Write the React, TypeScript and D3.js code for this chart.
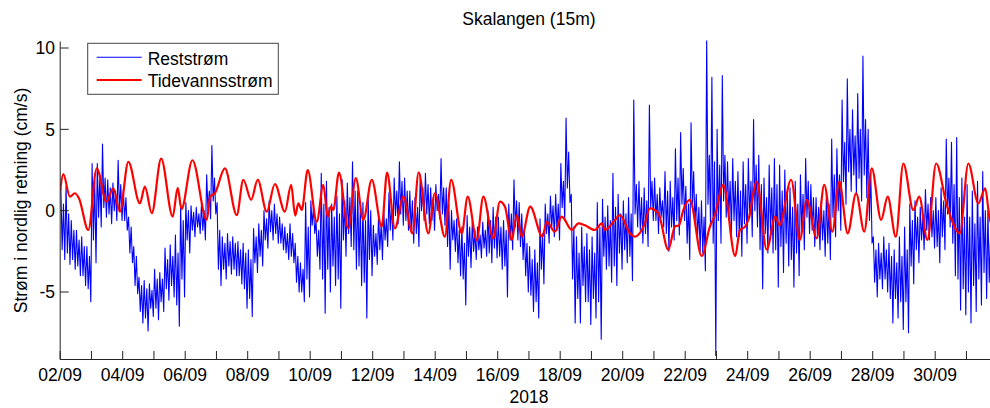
import React from 'react';
import * as d3 from 'd3';

const title = 'Skalangen (15m)';
const yLabel = 'Strøm i nordlig retning (cm/s)';
const xLabel = '2018';
const seriesNames = ['Reststrøm', 'Tidevannsstrøm'];
const yTicks = [-5, 0, 5, 10];
const yDomain = [-9.15, 10.4];
const startDate = Date.UTC(2018, 8, 2);
const endDate = Date.UTC(2018, 9, 2);
const lastLabelDate = Date.UTC(2018, 8, 30);
const slotsPerDay = 6;

// Reststrøm, per 4-hour slot (one row = one day):
// extreme upper / lower excursion of the slot
const resHigh = [
  1.4, 1.5, -0.6, -1.2, -1.6, -2.2,
  2.9, 2.9, 4.1, 1.9, 1.7, 3.1,
  1.3, -0.4, -2.2, -4.1, -4.3, -4.5,
  -3.6, -3.8, -2.3, -2.1, -1.5, 0.4,
  0.5, 0.3, 0.2, 0.4, 2.2, 4.0,
  0.5, -1.6, -1.4, -1.6, -1.9, -2.0,
  -2.4, -1.1, -0.8, 0.0, 0.6, 0.4,
  -0.4, -1.0, -0.8, -2.0, -3.2, 0.5,
  0.6, -0.6, 2.3, 1.8, 0.4, 0.9,
  1.9, 1.7, 3.0, 1.2, 0.5, 0.9,
  -0.9, -0.2, 0.0, 1.1, 2.0, 3.0,
  2.0, 1.2, 0.8, 2.2, 2.3, 1.4,
  1.6, 3.2, 1.4, 0.0, -0.5, -1.0,
  -0.3, -0.6, -1.0, -0.7, 0.0, 0.2,
  -0.4, -0.6, 0.4, 1.9, 0.5, -1.2,
  -2.2, -2.4, -0.5, 0.4, 0.9, 1.0,
  2.9, 5.7, 1.0, -1.6, -1.0, -1.4,
  -1.6, 0.5, 0.7, 0.3, 2.3, 1.0,
  0.6, 0.8, 6.8, 1.8, 1.4, 6.5,
  2.0, 1.4, 2.4, 1.8, 3.8, 4.8,
  1.5, 5.4, 1.0, 0.6, 10.6, 8.2,
  5.0, 8.3, 3.0, 3.2, 2.4, 3.0,
  3.2, 5.6, 3.4, 2.0, 2.8, 3.2,
  2.8, 2.5, 1.4, 1.8, 2.2, 3.2,
  1.6, 0.8, 0.6, 1.2, 4.4, 3.8,
  6.8, 8.1, 6.2, 7.2, 9.5, 5.0,
  -1.6, -2.0, -1.6, -2.0, -2.4, -1.6,
  -1.0, 0.4, 0.6, 0.2, 1.3, 0.8,
  0.8, 1.4, 4.4, 4.2, 4.5, 2.0,
  1.6, 1.2, 1.8, 2.4, 0.0, -1.0,
];
const resLow = [
  -3.0, -3.3, -3.6, -4.0, -4.6, -5.6,
  -3.2, -1.0, -0.4, -0.8, -0.6, -0.6,
  -1.2, -3.2, -5.1, -6.9, -7.4, -6.5,
  -6.7, -6.2, -5.5, -5.3, -7.1, -5.3,
  -2.6, -1.6, -1.4, -1.8, -0.5, -0.2,
  -4.6, -4.2, -3.9, -4.0, -4.5, -6.0,
  -6.5, -3.8, -3.4, -2.3, -1.8, -2.0,
  -2.4, -3.0, -3.2, -5.0, -5.6, -5.3,
  -1.4, -3.6, -6.3, -5.0, -4.6, -6.0,
  -2.8, -2.2, -3.6, -4.6, -6.6, -4.0,
  -3.3, -3.0, -2.2, -1.8, -0.8, -0.9,
  -1.2, -2.0, -2.2, -0.6, -0.8, -1.2,
  -0.5, -0.9, -3.6, -2.5, -4.0, -5.8,
  -3.5, -3.0, -2.9, -2.8, -3.2, -2.9,
  -3.6, -5.3, -2.4, -1.8, -3.0, -5.0,
  -6.2, -6.6, -4.5, -2.0, -1.6, -1.8,
  -0.6, 0.5, -6.9, -6.9, -5.6, -7.0,
  -6.6, -7.9, -3.6, -4.4, -4.6, -3.6,
  -3.2, -4.3, -1.0, -2.0, -2.2, -0.6,
  -1.4, -1.0, -2.5, -1.8, -1.5, -0.6,
  -3.0, -0.8, -2.5, -3.7, -1.0, -8.9,
  -2.0, -0.4, -1.4, -1.6, -2.8, -2.0,
  -1.6, -1.0, -4.8, -2.6, -2.6, -4.7,
  -3.8, -3.4, -4.7, -4.0, -2.4, -1.4,
  -2.2, -2.4, -2.8, -3.0, -1.6, -1.2,
  0.4, 1.2, 1.0, 0.6, 0.8, -2.0,
  -5.3, -4.8, -5.0, -6.9, -6.6, -7.3,
  -7.5, -4.5, -3.2, -2.4, -1.8, -2.3,
  -3.2, -2.4, -1.0, -4.0, -6.1, -6.4,
  -6.9, -6.2, -5.8, -5.4, -6.0, -4.0,
];
// upper / lower edge of the dense core of the band in the same slots
const resCoreHigh = [
  0.4, -0.2, -1.2, -1.8, -2.2, -2.8,
  1.8, 2.2, 2.0, 1.4, 1.2, 1.6,
  0.8, -1.0, -2.8, -4.6, -4.8, -4.9,
  -4.2, -4.2, -3.0, -2.8, -2.6, -0.6,
  0.0, -0.1, -0.2, 0.0, 1.2, 2.0,
  -1.2, -2.0, -1.9, -2.0, -2.4, -2.6,
  -3.0, -1.6, -1.2, -0.5, 0.0, -0.2,
  -0.8, -1.4, -1.4, -2.8, -3.6, -1.0,
  0.2, -1.2, 0.4, 0.2, -0.4, -0.2,
  0.6, 0.8, 1.2, 0.2, -0.6, 0.0,
  -1.4, -0.8, -0.5, 0.4, 1.2, 1.8,
  1.2, 0.6, 0.2, 1.4, 1.6, 0.8,
  1.0, 1.4, 0.4, -0.6, -1.2, -2.0,
  -1.0, -1.2, -1.5, -1.2, -0.6, -0.4,
  -1.0, -1.2, -0.2, 0.6, -0.2, -2.0,
  -3.0, -3.2, -1.4, -0.2, 0.3, 0.4,
  1.8, 3.6, -1.0, -2.6, -2.2, -2.4,
  -2.6, -1.0, -0.4, -0.6, 0.2, -0.2,
  -0.2, -0.2, 1.6, 0.8, 0.6, 1.8,
  1.0, 0.6, 1.2, 0.8, 2.0, 2.6,
  0.4, 2.4, 0.2, -0.4, 3.4, 3.0,
  2.8, 3.4, 1.8, 1.8, 1.2, 1.6,
  1.8, 2.8, 1.6, 0.8, 1.4, 1.6,
  1.2, 1.0, 0.2, 0.4, 1.0, 1.8,
  0.8, 0.2, 0.0, 0.4, 2.2, 2.2,
  4.2, 5.0, 4.6, 5.0, 5.6, 2.4,
  -2.4, -2.6, -2.4, -2.8, -3.2, -2.8,
  -2.4, -0.6, -0.4, -0.4, 0.4, 0.0,
  0.0, 0.6, 2.0, 1.6, 0.8, -0.4,
  -0.4, -0.8, -0.4, 0.0, -1.6, -2.0,
];
const resCoreLow = [
  -2.4, -2.6, -3.0, -3.4, -4.0, -4.8,
  -1.8, -0.4, 0.2, -0.2, 0.0, 0.0,
  -0.6, -2.6, -4.6, -6.2, -6.6, -6.0,
  -6.0, -5.6, -4.8, -4.6, -5.8, -4.2,
  -1.8, -1.2, -1.0, -1.2, 0.0, 0.6,
  -3.6, -3.6, -3.4, -3.6, -4.0, -4.8,
  -5.4, -3.2, -2.8, -1.8, -1.3, -1.4,
  -2.0, -2.6, -2.8, -4.4, -5.0, -4.2,
  -0.9, -2.8, -4.2, -3.6, -3.4, -4.2,
  -1.8, -1.4, -2.4, -3.4, -4.4, -3.0,
  -2.8, -2.4, -1.8, -1.2, -0.3, -0.2,
  -0.6, -1.2, -1.4, 0.0, -0.2, -0.6,
  0.0, -0.2, -2.2, -1.8, -3.2, -4.2,
  -2.8, -2.5, -2.4, -2.3, -2.6, -2.3,
  -2.8, -3.4, -1.8, -1.0, -2.2, -4.0,
  -5.2, -5.6, -3.6, -1.4, -1.0, -1.2,
  0.2, 1.4, -4.2, -5.4, -4.6, -5.6,
  -5.4, -5.6, -2.8, -3.4, -3.4, -2.6,
  -2.4, -2.8, -0.2, -1.2, -1.4, 0.2,
  -0.6, -0.4, -1.4, -1.0, -0.6, 0.4,
  -2.0, 0.2, -1.6, -2.6, 0.4, -2.0,
  -0.6, 0.6, -0.4, -0.6, -1.6, -0.8,
  -0.4, 0.0, -2.4, -1.4, -1.4, -2.4,
  -2.2, -2.0, -3.0, -2.6, -1.2, -0.4,
  -1.2, -1.6, -1.8, -2.0, -0.4, 0.0,
  1.8, 2.4, 2.2, 2.0, 2.2, -0.6,
  -4.4, -4.2, -4.2, -5.4, -5.4, -5.6,
  -5.6, -3.4, -2.4, -1.8, -1.2, -1.6,
  -2.2, -1.6, -0.2, -2.0, -4.2, -4.8,
  -5.0, -4.6, -4.2, -3.8, -4.4, -3.2,
];

// Tidevannsstrøm: turning points (days after 02/09 00:00, value in cm/s)
const tideDays = [
  0.0, 0.1, 0.31, 0.47, 0.6, 0.9, 1.17, 1.48, 1.7, 1.91, 2.18, 2.55, 2.71, 2.93,
  3.23, 3.6, 3.76, 3.88, 4.23, 4.69, 4.8, 4.95, 5.27, 5.65, 5.86, 6.11, 6.32, 6.61,
  6.87, 7.19, 7.39, 7.52, 7.62, 7.73, 7.92, 8.21, 8.42, 8.56, 8.66, 8.74, 8.92,
  9.22, 9.46, 9.7, 9.97, 10.29, 10.46, 10.71, 10.98, 11.27, 11.47, 11.78, 11.99,
  12.31, 12.51, 12.85, 13.04, 13.33, 13.54, 13.86, 14.07, 14.23, 14.45, 14.61,
  14.77, 15.04, 15.43, 15.57, 15.83, 16.05, 16.37, 16.58, 16.79, 17.11, 17.33,
  17.43, 17.75, 17.91, 18.23, 18.39, 18.71, 18.87, 19.14, 19.46, 19.67, 19.8,
  19.94, 20.15, 20.53, 20.79, 20.95, 21.22, 21.6, 21.75, 21.91, 22.02, 22.29,
  22.61, 22.88, 23.02, 23.39, 23.67, 23.89, 24.21, 24.45, 24.71, 24.93, 25.2,
  25.47, 25.73, 25.97, 26.27, 26.48, 26.74, 26.98, 27.3, 27.49, 27.75, 28.03,
  28.37, 28.79, 29.06, 29.38, 29.6, 29.75, 29.9,
];
const tideVals = [
  1.27, 2.25, 0.86, 1.07, 0.76, -1.19, 2.6, 0.55, 1.37, -0.06, 3.0, 0.45, 1.48, -0.16,
  3.2, -0.37, 1.4, 0.1, 3.1, -0.57, 0.86, 1.07, 2.6, -0.27, 1.9, 0.66, 1.9, -0.06,
  1.64, -0.06, 1.58, -0.3, 0.45, 0.04, 2.5, -0.68, 1.58, -0.37, 0.25, 0.04, 2.34,
  -1.09, 2.0, -0.57, 1.9, -0.98, 2.34, -1.09, 0.86, -1.39, 2.35, -1.39, 1.07,
  -1.6, 1.9, -1.39, 0.86, -1.8, 0.86, -1.7, 0.55, 0.25, -1.8, -0.27,
  -1.6, 0.25, -1.6, -0.68, -1.29, -0.37, -1.19, -0.78, -0.9, -1.19, -0.78,
  -1.19, -0.57, -0.27, -1.39, -1.6, -0.78, 0.14, -0.16, -2.4, -0.98, -0.9,
  0.04, 0.66, -2.8, -0.98, -0.27, 1.58, -2.8, -1.19, -1.0, -0.57, 1.78,
  -2.4, -0.37, -0.9, 1.9, -1.8, 0.66, -1.7, 1.58, -1.29, 1.78, -1.39,
  1.07, -1.29, 2.6, -0.57, 0.86, -1.6, 2.9, 0.04, 0.86, -1.8, 2.9,
  0.35, -1.39, 2.9, 0.45, 1.37, -0.57, -1.0,
];

const DAY = 86400000;
const W = 990;
const H = 408;
const plot = { left: 60.2, right: 997.7, top: 41.5, bottom: 359.5 };
const font = "'Liberation Sans', Arial, sans-serif";
const fs = 17.5;

export default function App() {
  const x = d3.scaleUtc().domain([new Date(startDate), new Date(endDate)]).range([plot.left, plot.right]);
  const y = d3.scaleLinear().domain(yDomain).range([plot.bottom, plot.top]);

  // each slot: extreme high, core low, core high, extreme low — in time order
  const resPoints: [Date, number][] = [];
  resHigh.forEach((hv, i) => {
    const t0 = startDate + (i / slotsPerDay) * DAY;
    const seq = [hv, resCoreLow[i], resCoreHigh[i], resLow[i]];
    seq.forEach((v, k) => {
      resPoints.push([new Date(t0 + ((k + 0.5) / 4 / slotsPerDay) * DAY), v]);
    });
  });
  const tidePoints: [Date, number][] = tideDays.map((d, i) => [new Date(startDate + d * DAY), tideVals[i]]);

  const line = d3
    .line<[Date, number]>()
    .x((d) => x(d[0]))
    .y((d) => y(d[1]));
  const smooth = d3
    .line<[Date, number]>()
    .x((d) => x(d[0]))
    .y((d) => y(d[1]))
    .curve(d3.curveMonotoneX);

  const dayTicks = d3.utcDay.range(new Date(startDate), new Date(endDate + DAY));
  const fmt = d3.utcFormat('%d/%m');
  const tickLen = 8.5;

  return (
    <svg width={W} height={H} style={{ position: 'absolute', left: 0, top: 0, background: '#fff' }} fontFamily={font}>
      <defs>
        <clipPath id="plotClip">
          <rect x={plot.left} y={plot.top - 1} width={plot.right - plot.left} height={plot.bottom - plot.top + 2} />
        </clipPath>
      </defs>
      <rect x={0} y={0} width={W} height={H} fill="#fff" />
      <g clipPath="url(#plotClip)">
        <path d={line(resPoints) || ''} fill="none" stroke="#0000ff" strokeWidth={1.1} strokeLinejoin="round" />
        <path d={smooth(tidePoints) || ''} fill="none" stroke="#ff0000" strokeWidth={2.2} strokeLinejoin="round" />
      </g>
      {/* axes */}
      <line x1={plot.left} x2={plot.left} y1={plot.top} y2={plot.bottom} stroke="#222" strokeWidth={1} />
      <line x1={plot.left} x2={plot.right} y1={plot.bottom} y2={plot.bottom} stroke="#222" strokeWidth={1} />
      {dayTicks.map((t, i) => (
        <g key={'xt' + i}>
          <line x1={x(t)} x2={x(t)} y1={plot.bottom} y2={plot.bottom - tickLen} stroke="#222" strokeWidth={1} />
          {i % 2 === 0 && +t <= lastLabelDate && (
            <text x={x(t)} y={381} textAnchor="middle" fontSize={fs} fill="#000">
              {fmt(t)}
            </text>
          )}
        </g>
      ))}
      {yTicks.map((v) => (
        <g key={'yt' + v}>
          <line x1={plot.left} x2={plot.left + tickLen} y1={y(v)} y2={y(v)} stroke="#222" strokeWidth={1} />
          <text x={55} y={y(v)} dy="0.36em" textAnchor="end" fontSize={fs} fill="#000">
            {v}
          </text>
        </g>
      ))}
      <text x={(plot.left + plot.right) / 2} y={403} textAnchor="middle" fontSize={fs} fill="#000">
        {xLabel}
      </text>
      <text x={(plot.left + plot.right) / 2} y={25} textAnchor="middle" fontSize={fs} fill="#000">
        {title}
      </text>
      <text
        transform={`translate(27, ${(plot.top + plot.bottom) / 2}) rotate(-90)`}
        textAnchor="middle"
        fontSize={fs}
        fill="#000"
      >
        {yLabel}
      </text>
      {/* legend */}
      <g>
        <rect x={87.7} y={43.3} width={190.6} height={51} fill="#fff" stroke="#444" strokeWidth={1} />
        <line x1={96.7} x2={141.7} y1={57.3} y2={57.3} stroke="#0000ff" strokeWidth={1.1} />
        <text x={147.7} y={65} fontSize={fs} fill="#000">
          {seriesNames[0]}
        </text>
        <line x1={96.7} x2={141.7} y1={80} y2={80} stroke="#ff0000" strokeWidth={2.2} />
        <text x={147.7} y={87.3} fontSize={fs} fill="#000">
          {seriesNames[1]}
        </text>
      </g>
    </svg>
  );
}
